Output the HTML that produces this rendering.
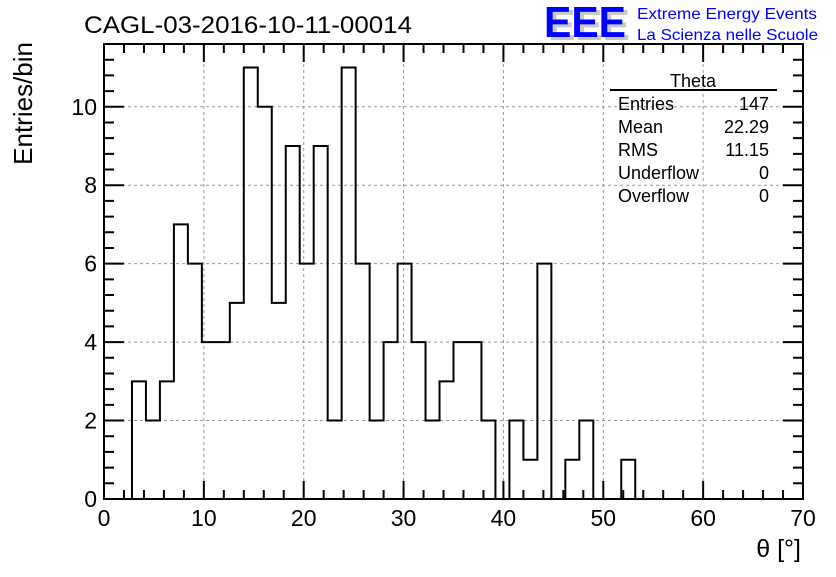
<!DOCTYPE html>
<html><head><meta charset="utf-8"><style>
body{margin:0;background:#fff;}
svg text{font-family:"Liberation Sans",sans-serif;}
</style></head><body>
<svg id="c" width="836" height="572" xmlns="http://www.w3.org/2000/svg">
<text x="84" y="33" font-size="24" textLength="328" lengthAdjust="spacingAndGlyphs">CAGL-03-2016-10-11-00014</text>
<g>
<text x="548" y="40" font-size="44" font-weight="bold" fill="#c8c8c8" textLength="82" lengthAdjust="spacingAndGlyphs">EEE</text>
<text x="544" y="37" font-size="44" font-weight="bold" fill="#0000ff" textLength="82" lengthAdjust="spacingAndGlyphs">EEE</text>
<text x="637" y="19" font-size="16" fill="#0000ff" textLength="180" lengthAdjust="spacingAndGlyphs">Extreme Energy Events</text>
<text x="637" y="40" font-size="16" fill="#0000ff" textLength="181" lengthAdjust="spacingAndGlyphs">La Scienza nelle Scuole</text>
</g>
<g id="grid"></g><g id="ticks"></g>
<path id="hist" fill="none" stroke="#000" stroke-width="2"/>
<rect x="104" y="44" width="699" height="455" fill="none" stroke="#000" stroke-width="2"/>
<g id="labels"></g>
<text x="32" y="42" font-size="26" transform="rotate(-90 32 42)" text-anchor="end">Entries/bin</text>
<text x="801" y="557" font-size="25" text-anchor="end">θ [°]</text>
<g font-size="18">
<text x="693" y="87" text-anchor="middle">Theta</text>
<line x1="610" y1="90" x2="777" y2="90" stroke="#000" stroke-width="2"/>
<text x="618" y="110">Entries</text><text x="769" y="110" text-anchor="end">147</text>
<text x="618" y="133">Mean</text><text x="769" y="133" text-anchor="end">22.29</text>
<text x="618" y="156">RMS</text><text x="769" y="156" text-anchor="end">11.15</text>
<text x="618" y="179">Underflow</text><text x="769" y="179" text-anchor="end">0</text>
<text x="618" y="202">Overflow</text><text x="769" y="202" text-anchor="end">0</text>
</g>
</svg>
<script>
const counts=[0,0,3,2,3,7,6,4,4,5,11,10,5,9,6,9,2,11,6,2,4,6,4,2,3,4,4,2,0,2,1,6,0,1,2,0,0,1,0,0,0,0,0,0,0,0,0,0,0,0];
const binWidth=1.4;
const xTicks=[0,10,20,30,40,50,60,70];
const yTicks=[0,2,4,6,8,10];
const NS="http://www.w3.org/2000/svg";
const X0=104,X1=803,Y0=499,Y1=44,xmax=70,ymax=11.6;
const sx=v=>X0+v/xmax*(X1-X0);
const sy=v=>Y0-v/ymax*(Y0-Y1);
function mk(t,a,p){const e=document.createElementNS(NS,t);for(const k in a)e.setAttribute(k,a[k]);p.appendChild(e);return e;}
const grid=document.getElementById('grid'),ticks=document.getElementById('ticks'),labels=document.getElementById('labels');
let d="M"+sx(0)+","+sy(0);
counts.forEach((c,i)=>{d+=" L"+sx(i*binWidth)+","+sy(c)+" L"+sx((i+1)*binWidth)+","+sy(c);});
d+=" L"+sx(counts.length*binWidth)+","+sy(0);
document.getElementById('hist').setAttribute('d',d);
xTicks.forEach(v=>{
 if(v>0&&v<xmax){const g=mk('line',{x1:sx(v),x2:sx(v),y1:Y0,y2:Y1,stroke:'#999','stroke-dasharray':'3,3'},grid);
 
 }
 const t=mk('text',{x:sx(v),y:526,'font-size':23,'text-anchor':'middle'},labels);t.textContent=v;
 
 
});
yTicks.forEach(v=>{
 if(v>0){const g=mk('line',{x1:X0,x2:X1,y1:sy(v),y2:sy(v),stroke:'#999','stroke-dasharray':'3,3'},grid);
 
 }
 const t=mk('text',{x:97,y:sy(v)+8,'font-size':23,'text-anchor':'end'},labels);t.textContent=v;
 
 
});
for(let v=0;v<=xmax;v+=2){const L=(v%10===0)?18:9;
 mk('path',{d:`M${sx(v)},${Y0}v${-L}M${sx(v)},${Y1}v${L}`,stroke:'#000','stroke-width':2},ticks);}
for(let k=0;k*0.4<=ymax;k++){const v=k*0.4;const L=(k%5===0)?20:10;
 mk('path',{d:`M${X0},${sy(v)}h${L}M${X1},${sy(v)}h${-L}`,stroke:'#000','stroke-width':2},ticks);}
</script>
</body></html>
